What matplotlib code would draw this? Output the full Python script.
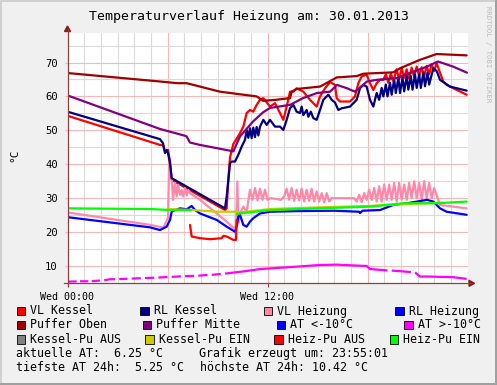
import matplotlib
matplotlib.use('Agg')
import matplotlib.pyplot as plt
import numpy as np
from matplotlib.patches import Rectangle, Polygon
from matplotlib.lines import Line2D

# ---------------- data (hours since Wed 00:00, °C) ----------------
title = "Temperaturverlauf Heizung am: 30.01.2013"
x_tick_pos = [0, 12]
x_tick_labels = ["Wed 00:00", "Wed 12:00"]
y_ticks = [10, 20, 30, 40, 50, 60, 70]

vl_kessel = [(0, 54.3), (5.55, 45.7), (5.73, 45.7), (5.85, 43.7), (6.03, 44.2), (6.15, 40.8), (6.25, 35.4),
             (9.45, 26.5), (9.55, 27.0), (9.65, 35.4), (9.75, 42.0), (9.95, 46.0), (10.15, 47.5), (10.35, 49.2),
             (10.55, 51.1), (10.75, 55.1), (10.95, 56.0), (11.15, 55.5), (11.35, 57.5), (11.55, 59.0),
             (11.75, 59.5), (12.15, 57.0), (12.45, 58.0), (12.75, 55.1), (12.95, 53.1), (13.15, 57.0),
             (13.35, 61.4), (13.55, 61.4), (13.75, 62.4), (14.15, 61.4), (14.55, 59.0), (14.95, 57.0),
             (15.15, 60.0), (15.45, 62.4), (15.75, 64.2), (16.05, 63.4), (16.15, 59.5), (16.35, 58.5),
             (16.95, 58.5), (17.25, 60.0), (17.45, 63.9), (17.65, 65.9), (17.95, 66.4), (18.15, 63.9),
             (18.35, 61.9), (18.55, 63.9), (18.75, 64.9), (18.95, 64.9), (19.1, 66.5), (19.25, 64.0),
             (19.4, 66.8), (19.55, 64.5), (19.75, 68.0), (19.9, 65.0), (20.05, 68.3), (20.2, 65.5),
             (20.35, 68.0), (20.5, 65.2), (20.65, 68.5), (20.8, 65.8), (20.95, 68.8), (21.1, 66.0),
             (21.25, 68.6), (21.4, 66.0), (21.55, 69.0), (21.7, 66.5), (21.85, 69.5), (22.0, 67.5),
             (22.15, 69.8), (22.35, 67.0), (22.55, 64.4), (22.75, 63.4), (23.15, 62.4), (23.95, 60.5)]

rl_kessel = [(0, 55.5), (5.55, 47.4), (5.73, 46.2), (5.85, 43.3), (5.95, 44.2), (6.03, 43.3), (6.15, 40.3),
             (6.25, 35.9), (9.45, 27.0), (9.55, 30.5), (9.75, 40.3), (9.85, 40.8), (10.05, 40.8), (10.25, 42.8),
             (10.45, 45.2), (10.65, 47.2), (10.75, 50.1), (10.85, 47.8), (10.95, 50.6), (11.05, 47.7),
             (11.15, 50.8), (11.25, 48.0), (11.35, 51.0), (11.45, 48.5), (11.55, 51.1), (11.75, 53.1),
             (11.95, 51.6), (12.15, 53.1), (12.45, 51.1), (12.75, 51.1), (12.95, 50.1), (13.15, 53.1),
             (13.35, 56.5), (13.55, 57.5), (13.75, 55.5), (13.95, 55.1), (14.05, 57.0), (14.15, 54.5),
             (14.35, 56.0), (14.45, 54.0), (14.6, 55.5), (14.75, 53.6), (14.95, 53.1), (15.15, 56.0),
             (15.35, 59.0), (15.65, 60.5), (15.85, 59.0), (16.05, 58.2), (16.25, 56.0), (16.45, 56.5),
             (16.95, 57.0), (17.35, 59.0), (17.55, 62.4), (17.75, 63.4), (17.95, 62.9), (18.15, 59.0),
             (18.35, 57.0), (18.55, 61.0), (18.7, 59.0), (18.85, 62.5), (18.95, 60.0), (19.1, 63.5),
             (19.2, 60.0), (19.35, 64.0), (19.45, 60.5), (19.6, 65.0), (19.7, 61.0), (19.85, 65.5),
             (19.95, 61.0), (20.1, 65.5), (20.2, 61.5), (20.35, 66.0), (20.45, 62.0), (20.6, 66.0),
             (20.7, 62.0), (20.85, 66.5), (20.95, 62.5), (21.1, 66.5), (21.2, 62.5), (21.35, 67.0),
             (21.45, 63.0), (21.6, 67.0), (21.7, 63.5), (21.95, 68.3), (22.15, 67.5), (22.35, 64.9),
             (22.95, 62.9), (23.95, 61.7)]

vl_heizung = [(0, 25.8), (3.5, 23.2), (5.0, 22.1), (5.75, 21.3), (6.03, 24.2), (6.1, 40.4), (6.25, 36.4),
              (6.33, 29.5), (6.45, 34.5), (6.55, 30.5), (6.63, 33.9), (6.75, 31.0), (6.85, 32.4), (6.93, 30.5),
              (7.05, 33.0), (7.15, 30.8), (7.25, 32.4), (7.35, 31.5), (7.95, 29.5), (8.95, 25.5), (9.55, 23.1),
              (9.95, 21.2), (10.11, 21.6), (10.19, 34.9),
              (10.25, 22.6), (10.35, 25.5), (10.55, 27.5), (10.75, 26.0), (10.95, 32.5), (11.1, 29.5),
              (11.25, 33.0), (11.4, 29.3), (11.55, 32.8), (11.7, 29.5), (11.85, 32.5), (12.0, 29.5),
              (12.2, 30.0), (12.5, 29.8), (12.8, 29.5), (13.0, 30.5), (13.15, 32.8), (13.3, 29.5),
              (13.45, 33.0), (13.6, 29.2), (13.75, 32.5), (13.9, 29.3), (14.05, 32.8), (14.2, 29.0),
              (14.35, 32.5), (14.5, 29.2), (14.65, 32.8), (14.8, 29.0), (14.95, 32.0), (15.1, 29.0),
              (15.25, 31.5), (15.4, 28.8), (15.55, 31.5), (15.7, 29.0), (15.85, 30.0), (16.5, 30.0),
              (17.2, 30.0), (17.35, 29.0), (17.5, 31.0), (17.65, 28.8), (17.8, 31.5), (17.95, 29.5),
              (18.1, 32.5), (18.25, 29.5), (18.4, 33.0), (18.55, 29.0), (18.7, 33.5), (18.85, 29.0),
              (19.0, 34.0), (19.15, 29.5), (19.3, 34.0), (19.45, 29.5), (19.6, 34.5), (19.75, 29.0),
              (19.9, 34.5), (20.05, 29.5), (20.2, 34.0), (20.35, 29.5), (20.5, 34.5), (20.65, 30.0),
              (20.8, 35.0), (20.95, 30.0), (21.1, 34.5), (21.25, 29.5), (21.4, 35.0), (21.55, 30.0),
              (21.7, 34.5), (21.85, 30.0), (22.0, 33.0), (22.35, 28.0), (23.15, 27.5), (23.95, 27.0)]

rl_heizung = [(0, 24.4), (4.95, 21.4), (5.55, 20.6), (5.95, 21.6), (6.15, 23.6), (6.25, 26.0), (6.45, 26.5),
              (6.75, 27.0), (7.15, 26.7), (7.45, 27.7), (7.65, 26.5), (7.95, 25.5), (8.95, 23.6), (9.55, 21.6),
              (10.05, 20.1), (10.15, 21.6), (10.25, 24.6), (10.35, 25.1), (10.55, 22.1), (10.75, 21.6),
              (10.95, 23.1), (11.15, 24.1), (11.55, 25.5), (12.15, 26.0), (14.0, 26.2), (16.0, 26.3),
              (17.5, 26.0), (17.55, 25.6), (17.7, 26.3), (18.75, 26.5), (19.55, 28.0), (20.37, 28.5),
              (21.57, 29.5), (21.95, 29.0), (22.35, 27.0), (22.75, 26.0), (23.95, 25.1)]

puffer_oben = [(0, 66.9), (5.55, 64.4), (6.6, 63.9), (7.15, 63.9), (9.15, 61.4), (11.35, 60.0), (11.75, 58.7),
               (12.5, 59.0), (13.35, 59.5), (13.45, 61.4), (13.75, 62.2), (15.15, 62.9), (15.75, 64.5),
               (16.15, 65.6), (17.35, 66.0), (17.75, 66.7), (19.55, 67.1), (19.95, 68.3), (21.15, 70.8),
               (22.15, 72.5), (23.95, 72.1)]

puffer_mitte = [(0, 60.3), (5.55, 50.4), (7.05, 48.4), (7.15, 48.2), (7.35, 46.4), (7.95, 45.7), (9.75, 44.0),
                (9.95, 43.8), (10.35, 48.2), (11.13, 52.6), (11.73, 55.3), (12.15, 56.6), (12.93, 57.2),
                (13.35, 57.5), (14.13, 59.5), (14.97, 61.0), (15.75, 61.4), (16.17, 63.4), (16.77, 62.4),
                (17.25, 61.4), (17.97, 64.4), (18.57, 64.9), (19.77, 65.4), (20.55, 66.9), (21.57, 68.8),
                (22.23, 70.3), (23.13, 68.8), (23.97, 67.0)]

at_aussen = [(0, 5.4), (0.55, 5.45), (0.6, np.nan), (0.75, 5.5), (1.25, 5.5), (1.3, np.nan), (1.45, 5.55),
             (1.95, 5.7), (2.05, np.nan), (2.2, 5.8), (2.55, 6.1), (2.85, 6.1), (2.95, np.nan), (3.1, 6.15),
             (3.6, 6.25), (3.7, np.nan), (3.85, 6.3), (4.4, 6.4), (4.5, np.nan), (4.65, 6.45), (5.2, 6.55),
             (5.3, np.nan), (5.45, 6.6), (6.0, 6.75), (6.1, np.nan), (6.25, 6.8), (6.8, 6.95), (6.9, np.nan),
             (7.05, 7.0), (7.6, 7.1), (7.7, np.nan), (7.85, 7.15), (8.4, 7.35), (8.5, np.nan), (8.65, 7.4),
             (9.2, 7.65), (9.3, np.nan), (9.45, 7.75), (10.0, 8.1), (10.55, 8.4), (11.15, 8.8), (11.55, 9.1),
             (12.15, 9.3), (13.15, 9.6), (15.15, 10.3), (16.15, 10.4), (17.95, 10.0), (18.15, 9.1),
             (19.2, 8.7), (19.3, np.nan), (19.45, 8.65), (20.15, 8.4), (20.6, 8.2), (20.7, np.nan),
             (20.85, 8.1), (21.15, 6.9), (21.57, 6.9), (23.15, 6.7), (23.95, 6.2)]

heizpu_aus = [(7.35, 22.1), (7.45, 18.7), (7.95, 18.2), (8.55, 17.9), (9.25, 18.2), (9.35, 18.9), (9.55, 18.7),
              (9.95, 17.7), (10.11, 17.7), (10.15, 23.6)]

kesselpu_ein = [(6.0, 26.8), (7.5, 26.5), (8.95, 26.0), (10.05, 26.0), (10.35, 25.8), (12.15, 26.8),
                (15.15, 27.3), (18.15, 27.7), (20.0, 28.2), (22.5, 28.7)]

heizpu_ein = [(0, 27.0), (5.0, 26.8), (6.15, 26.5), (7.0, 26.5), (7.4, 26.5), (7.5, np.nan),
              (10.15, 25.3), (10.35, 25.5), (12.15, 26.5), (15.15, 27.0), (18.15, 27.5), (20.15, 28.5),
              (22.2, 28.5), (23.95, 29.0)]

legend_rows = [
    [("VL Kessel", "#FF0000"), ("RL Kessel", "#000080"), ("VL Heizung", "#FF88AA"), ("RL Heizung", "#0000FF")],
    [("Puffer Oben", "#A00000"), ("Puffer Mitte", "#800080"), ("AT <-10°C", "#0000FF"), ("AT >-10°C", "#FF00FF")],
    [("Kessel-Pu AUS", "#808080"), ("Kessel-Pu EIN", "#CCCC00"), ("Heiz-Pu AUS", "#FF0000"), ("Heiz-Pu EIN", "#00FF00")],
]
info_lines = [("aktuelle AT:  6.25 °C", "Grafik erzeugt um: 23:55:01"),
              ("tiefste AT 24h:  5.25 °C", "höchste AT 24h: 10.42 °C")]

# ---------------- figure ----------------
W, H = 497, 385
MONO = "DejaVu Sans Mono"
fig = plt.figure(figsize=(W / 100, H / 100), dpi=100, facecolor="#F0F0F0")

def fx(x):
    return x / W

def fy(y):
    return 1 - y / H

L, R, T, B = 67.5, 467.5, 33.0, 283.3
ax = fig.add_axes([fx(L), fy(B), (R - L) / W, (B - T) / H])
ax.set_facecolor("white")
ax.set_xlim(0, 24)
ax.set_ylim(4.9, 78.7)
for s in ax.spines.values():
    s.set_visible(False)

minor_c = "#DADADA"
major_c = "#F5B8B8"
for h in range(1, 24):
    ax.axvline(h, color=major_c if h % 6 == 0 else minor_c, lw=0.8, zorder=0)
for v in range(10, 80, 5):
    ax.axhline(v, color=major_c if v % 10 == 0 else minor_c, lw=0.8, zorder=0)

ax.set_yticks(y_ticks)
ax.set_yticklabels([str(t) for t in y_ticks], fontfamily=MONO, fontsize=7.6)
ax.set_xticks(x_tick_pos)
ax.set_xticklabels(x_tick_labels, fontfamily=MONO, fontsize=7.2)
ax.tick_params(axis="y", length=2.5, width=0.8, color=major_c, pad=4.5)
ax.tick_params(axis="x", length=3, width=0.8, color="#904040", pad=3.5)

def draw(series, color, lw=1.6, z=3, cap="round"):
    hs = [p[0] for p in series]
    vs = [p[1] for p in series]
    ax.plot(hs, vs, color=color, lw=lw, zorder=z, solid_joinstyle="round", solid_capstyle=cap)

draw(vl_kessel, "#FF0000", z=3)
draw(rl_kessel, "#000080", z=4)
draw(vl_heizung, "#FF88AA", z=3)
draw(rl_heizung, "#0000FF", z=4)
draw(puffer_oben, "#A00000", z=5)
draw(puffer_mitte, "#800080", z=5)
draw(at_aussen, "#FF00FF", z=5, cap="butt")
draw(heizpu_aus, "#FF0000", z=5)
draw(kesselpu_ein, "#CCCC00", z=6)
draw(heizpu_ein, "#00FF00", z=7)

# axes lines and arrows
axis_c = "#904040"
fig.add_artist(Line2D([fx(63.5), fx(470)], [fy(B), fy(B)], color=axis_c, lw=0.9, transform=fig.transFigure))
fig.add_artist(Line2D([fx(L), fx(L)], [fy(B + 3), fy(29)], color=axis_c, lw=0.9, transform=fig.transFigure))
fig.add_artist(Polygon([[fx(L - 3), fy(31.5)], [fx(L + 3), fy(31.5)], [fx(L), fy(26)]], closed=True,
                       color="#8B1A1A", transform=fig.transFigure))
fig.add_artist(Polygon([[fx(469), fy(B - 3)], [fx(469), fy(B + 3)], [fx(474.5), fy(B)]], closed=True,
                       color="#8B1A1A", transform=fig.transFigure))

# title, y label, watermark
fig.text(fx(249), fy(16.5), title, fontfamily=MONO, fontsize=9.5, ha="center", va="center")
fig.text(fx(14), fy(155), "°C", fontfamily=MONO, fontsize=8, rotation=90, ha="center", va="center")
fig.text(fx(488), fy(6), "RRDTOOL / TOBI OETIKER", fontfamily=MONO, fontsize=5.2, rotation=270,
         ha="center", va="top", color="#BBBBBB")

# legend
box_x = [[16.7, 140.0, 263.7, 395.0], [16.7, 142.7, 276.7, 404.0], [16.7, 145.3, 274.0, 389.7]]
row_y = [311.0, 325.0, 339.3]
for r, row in enumerate(legend_rows):
    for c, (lab, col) in enumerate(row):
        bx = box_x[r][c]
        by = row_y[r]
        fig.add_artist(Rectangle((fx(bx), fy(by + 4.3)), 8.6 / W, 8.6 / H, facecolor=col,
                                 edgecolor="#000000", lw=0.6, transform=fig.transFigure))
        fig.text(fx(bx + 13.6), fy(by), lab, fontfamily=MONO, fontsize=8.4, ha="left", va="center")

info_y = [353.3, 367.3]
info_x2 = [198.7, 200.0]
for i, (a, b) in enumerate(info_lines):
    fig.text(fx(16), fy(info_y[i]), a, fontfamily=MONO, fontsize=8.4, ha="left", va="center")
    fig.text(fx(info_x2[i]), fy(info_y[i]), b, fontfamily=MONO, fontsize=8.4, ha="left", va="center")

# frame
fig.add_artist(Rectangle((0, fy(2)), 1, 2 / H, facecolor="#D0D0D0", edgecolor="none", transform=fig.transFigure))
fig.add_artist(Rectangle((0, 0), 2 / W, 1, facecolor="#D0D0D0", edgecolor="none", transform=fig.transFigure))
fig.add_artist(Rectangle((fx(494.5), 0), 2.5 / W, 1, facecolor="#A0A0A0", edgecolor="none", transform=fig.transFigure))
fig.add_artist(Rectangle((0, 0), 1, 2.5 / H, facecolor="#A0A0A0", edgecolor="none", transform=fig.transFigure))

fig.savefig("out.png", dpi=100, facecolor=fig.get_facecolor())
